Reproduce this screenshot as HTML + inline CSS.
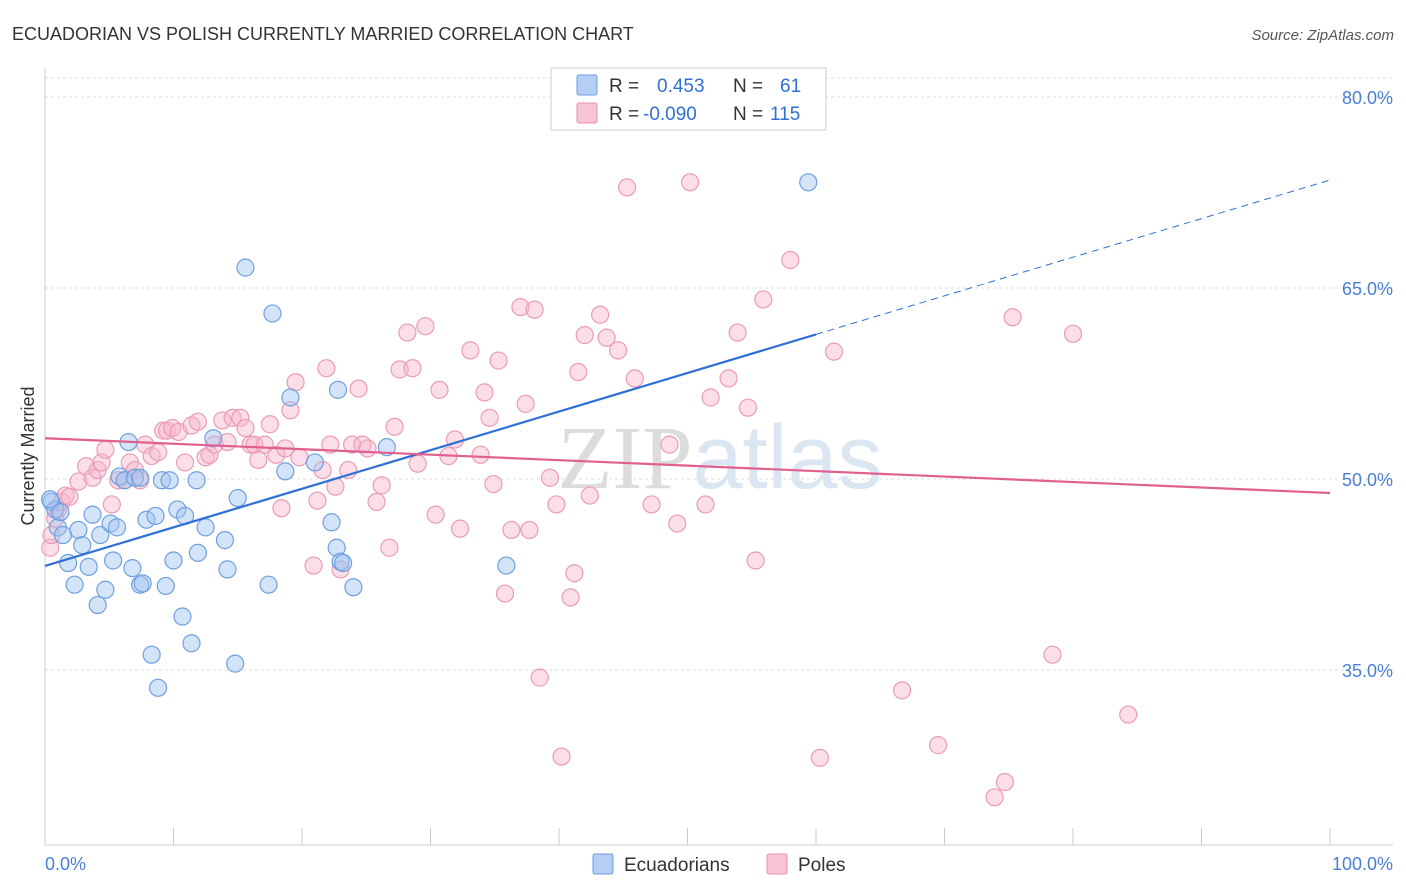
<!DOCTYPE html>
<html><head><meta charset="utf-8">
<style>
body{margin:0;background:#fff;font-family:"Liberation Sans",sans-serif;}
svg{display:block}
</style></head>
<body>
<svg id="chart" width="1406" height="892">
<text x="12" y="40" font-size="18" fill="#333">ECUADORIAN VS POLISH CURRENTLY MARRIED CORRELATION CHART</text>
<text x="1394" y="40" font-size="15" fill="#555" font-style="italic" text-anchor="end">Source: ZipAtlas.com</text>
<text x="34" y="456" font-size="18" fill="#333" text-anchor="middle" transform="rotate(-90 34 456)">Currently Married</text>
<g id="grid"></g>
<text x="720" y="488" font-size="90" text-anchor="middle" fill="#e4e4e4" font-family="Liberation Serif,serif"><tspan fill="#dcdcdc">ZIP</tspan><tspan fill="#dbe6f3" font-family="Liberation Sans,sans-serif">atlas</tspan></text>
<g id="pts"></g>
<g id="lines"></g>
<g>
<rect x="551" y="68" width="275" height="62" fill="#fff" stroke="#ccc"/>
<rect x="577" y="75" width="20" height="20" fill="#b4cff2" stroke="#6a9be0" rx="2"/>
<rect x="577" y="103" width="20" height="20" fill="#f8c4d4" stroke="#e890ad" rx="2"/>
<text x="609" y="92" font-size="19" fill="#333">R = <tspan fill="#2f6fd6" x="657">0.453</tspan><tspan x="733" fill="#333">N =</tspan><tspan x="780" fill="#2f6fd6">61</tspan></text>
<text x="609" y="120" font-size="19" fill="#333">R = <tspan fill="#2f6fd6" x="643">-0.090</tspan><tspan x="733" fill="#333">N =</tspan><tspan x="770" fill="#2f6fd6">115</tspan></text>
</g>
<g>
<rect x="593" y="854" width="20" height="20" fill="#b4cff2" stroke="#6a9be0" rx="2"/>
<text x="624" y="871" font-size="19" fill="#333">Ecuadorians</text>
<rect x="767" y="854" width="20" height="20" fill="#f8c4d4" stroke="#e890ad" rx="2"/>
<text x="798" y="871" font-size="19" fill="#333">Poles</text>
</g>
</svg>
<script>
const yTicks=[80,65,50,35];
const xTickLabels=["0.0%","100.0%"];
const blueX=[0.5,0.8,1.0,1.2,1.4,1.8,2.3,2.6,2.9,3.4,3.7,4.1,4.3,4.7,5.1,5.3,5.6,5.8,6.2,6.5,6.8,7.0,7.4,7.6,7.9,8.3,8.6,8.8,9.1,9.4,9.7,10.0,10.3,10.7,10.9,11.4,11.8,11.9,12.5,13.1,14.0,14.2,14.8,15.0,15.6,17.4,17.7,18.7,19.1,21.0,22.3,22.7,23.0,23.2,22.8,24.0,26.6,35.9,59.4,0.4,7.4];
const blueY=[48.2,47.6,46.2,47.4,45.6,43.4,41.7,46.0,44.8,43.1,47.2,40.1,45.6,41.3,46.5,43.6,46.2,50.2,49.9,52.9,43.0,50.1,41.7,41.8,46.8,36.2,47.1,33.6,49.9,41.6,49.9,43.6,47.6,39.2,47.1,37.1,49.9,44.2,46.2,53.2,45.2,42.9,35.5,48.5,66.6,41.7,63.0,50.6,56.4,51.3,46.6,44.6,43.5,43.4,57.0,41.5,52.5,43.2,73.3,48.4,50.1];
const pinkX=[0.4,0.5,0.8,1.0,1.3,1.6,1.9,2.6,3.2,3.7,4.1,4.4,4.7,5.2,5.7,6.2,6.6,7.0,7.4,7.8,8.3,8.8,9.2,9.5,9.9,10.4,10.9,11.4,11.9,12.5,12.8,13.2,13.8,14.2,14.6,15.2,15.6,16.0,16.3,16.6,17.1,17.5,18.0,18.4,18.7,19.1,19.5,19.8,20.9,21.2,21.6,21.9,22.2,22.6,23.0,23.6,23.9,24.4,24.7,25.1,25.8,26.2,26.8,27.2,27.6,28.2,28.6,29.0,29.6,30.4,30.7,31.4,31.9,32.3,33.1,33.9,34.2,34.6,34.9,35.3,35.8,36.3,37.0,37.4,37.7,38.1,38.5,39.3,39.8,40.2,40.9,41.2,41.5,42.0,42.4,43.2,43.7,44.6,45.3,45.9,47.2,48.6,49.2,50.2,51.4,51.8,53.2,53.9,54.7,55.3,55.9,58.0,60.3,61.4,66.7,69.5,73.9,74.7,75.3,78.4,80.0,84.3,46.8];
const pinkY=[44.6,45.6,46.9,47.6,48.2,48.7,48.6,49.8,51.0,50.1,50.7,51.3,52.3,48.0,49.9,49.9,51.3,50.7,49.9,52.7,51.8,52.1,53.8,53.8,54.0,53.7,51.3,54.2,54.5,51.7,51.9,52.7,54.6,52.9,54.8,54.8,54.0,52.7,52.7,51.5,52.7,54.3,51.9,47.7,52.4,55.4,57.6,51.7,43.2,48.3,50.7,58.7,52.7,49.4,42.9,50.7,52.7,57.1,52.7,52.4,48.2,49.5,44.6,54.1,58.6,61.5,58.7,51.2,62.0,47.2,57.0,51.8,53.1,46.1,60.1,51.9,56.8,54.8,49.6,59.3,41.0,46.0,63.5,55.9,46.0,63.3,34.4,50.1,48.0,28.2,40.7,42.6,58.4,61.3,48.7,62.9,61.1,60.1,72.9,57.9,48.0,52.7,46.5,73.3,48.0,56.4,57.9,61.5,55.6,43.6,64.1,67.2,28.1,60.0,33.4,29.1,25.0,26.2,62.7,36.2,61.4,31.5,80.1];
const blueTrend=[43.17,73.48];
const pinkTrend=[53.2,48.9];
const NS="http://www.w3.org/2000/svg";
const sx=v=>45+v*12.85;
const sy=v=>97+(80-v)*12.733;
function mk(tag,attrs,parent){const e=document.createElementNS(NS,tag);for(const k in attrs)e.setAttribute(k,attrs[k]);parent.appendChild(e);return e;}
const grid=document.getElementById('grid');
mk('line',{x1:45,y1:78,x2:1393,y2:78,stroke:'#ddd','stroke-dasharray':'3,3'},grid);
yTicks.forEach(t=>{
 const l=mk('line',{x1:45,y1:sy(t),x2:1393,y2:sy(t),stroke:'#ddd','stroke-dasharray':'3,3'},grid);
 
 
 const tx=mk('text',{x:1393,y:sy(t)+7,'font-size':18,fill:'#4a7fd6','text-anchor':'end'},grid);
 tx.textContent=t.toFixed(1)+'%';
 
 
});
mk('line',{x1:45,y1:68,x2:45,y2:845,stroke:'#ccc'},grid);
mk('line',{x1:45,y1:845,x2:1393,y2:845,stroke:'#ccc'},grid);
for(let i=0;i<=10;i++){mk('line',{x1:sx(i*10),y1:828,x2:sx(i*10),y2:845,stroke:'#ccc'},grid);}
const xl0=mk('text',{x:45,y:870,'font-size':18,fill:'#4a7fd6'},grid);xl0.textContent=xTickLabels[0];


const xl1=mk('text',{x:1393,y:870,'font-size':18,fill:'#4a7fd6','text-anchor':'end'},grid);xl1.textContent=xTickLabels[1];


const pts=document.getElementById('pts');
pinkX.forEach((x,i)=>{const c=mk('circle',{cx:sx(x),cy:sy(pinkY[i]),r:8.5,fill:'rgba(246,182,204,0.45)',stroke:'#eb9bb6','stroke-width':1.2},pts);
 
 });
blueX.forEach((x,i)=>{const c=mk('circle',{cx:sx(x),cy:sy(blueY[i]),r:8.5,fill:'rgba(160,196,240,0.45)',stroke:'#6f9fe0','stroke-width':1.2},pts);
 
 });
const lines=document.getElementById('lines');
const by=x=>blueTrend[0]+(blueTrend[1]-blueTrend[0])*x/100;
const b1=mk('line',{x1:sx(0),y1:sy(by(0)),x2:sx(60),y2:sy(by(60)),stroke:'#2f6fd6','stroke-width':2.2},lines);


const b2=mk('line',{x1:sx(60),y1:sy(by(60)),x2:sx(100),y2:sy(by(100)),stroke:'#2f6fd6','stroke-width':1,'stroke-dasharray':'7,5'},lines);


const p1=mk('line',{x1:sx(0),y1:sy(pinkTrend[0]),x2:sx(100),y2:sy(pinkTrend[1]),stroke:'#e0608e','stroke-width':2.2},lines);


</script>
</body></html>
